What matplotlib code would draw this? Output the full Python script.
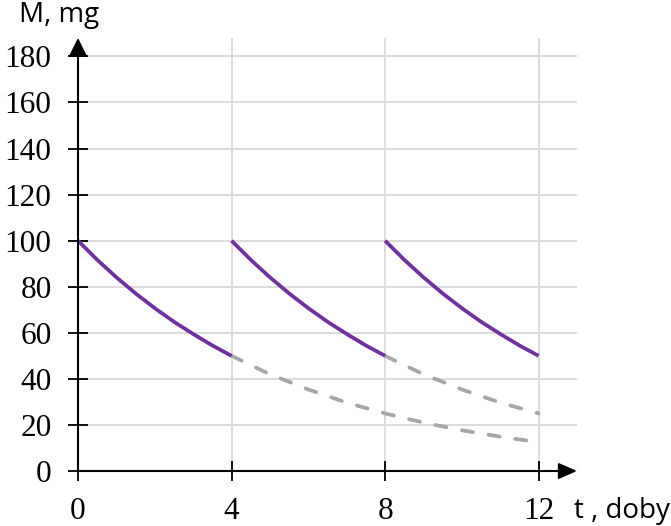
import matplotlib
matplotlib.use("Agg")
import matplotlib.pyplot as plt

# Data
t_seg = [0, 0.5, 1, 1.5, 2, 2.5, 3, 3.5, 4]
m_seg = [100, 91.7, 84.1, 77.1, 70.7, 64.8, 59.5, 54.5, 50]
seg_starts = [0, 4, 8]

t_dash_long = [4, 5, 6, 7, 8, 9, 10, 11, 12]
m_dash_long = [50, 42, 35.4, 29.7, 25, 21, 17.7, 14.9, 12.5]
t_dash_short = [8, 9, 10, 11, 12]
m_dash_short = [50, 42, 35.4, 29.7, 25]

x_ticks = [0, 4, 8, 12]
y_ticks = [0, 20, 40, 60, 80, 100, 120, 140, 160, 180]

purple = "#7030A0"
gray = "#A6A6A6"

fig = plt.figure(figsize=(6.71, 5.26), dpi=100)
ax = fig.add_axes([78/671, 55/526, (577-78)/671, (488-55)/526])
ax.set_xlim(0, 13)
ax.set_ylim(0, 188)

for s in ax.spines.values():
    s.set_visible(False)

ax.set_xticks(x_ticks)
ax.set_yticks(y_ticks)
ax.grid(True, color="#D9D9D9", lw=1.3, zorder=0)
ax.tick_params(direction="inout", length=14, width=1.3, color="black",
               labelsize=22.5, pad=12)
for lab in ax.get_xticklabels() + ax.get_yticklabels():
    lab.set_fontfamily("Liberation Serif")

# axes with arrows
ax.annotate("", xy=(13, 0), xytext=(0, 0),
            arrowprops=dict(arrowstyle="-|>,head_length=0.8,head_width=0.35",
                            mutation_scale=14, lw=1.5, color="black",
                            shrinkA=0, shrinkB=0), annotation_clip=False, zorder=5)
ax.annotate("", xy=(0, 188), xytext=(0, 0),
            arrowprops=dict(arrowstyle="-|>,head_length=0.8,head_width=0.4",
                            mutation_scale=14, lw=1.5, color="black",
                            shrinkA=0, shrinkB=0), annotation_clip=False, zorder=5)

for tx, my in ((t_dash_long, m_dash_long), (t_dash_short, m_dash_short)):
    ax.plot(tx, my, color=gray, lw=2.7, dashes=(3.0, 4.2),
            dash_capstyle="round", zorder=3)
for s0 in seg_starts:
    ax.plot([s0 + t for t in t_seg], m_seg, color=purple, lw=2.7, zorder=4,
            solid_capstyle="butt")

fig.text(19/671, 1 - 15/526, "M, mg", fontsize=20, family="Open Sans",
         va="center", ha="left")
fig.text(574/671, 1 - 511/526, "t , doby", fontsize=20, family="Open Sans",
         va="center", ha="left")

fig.savefig("out.png", dpi=100)
